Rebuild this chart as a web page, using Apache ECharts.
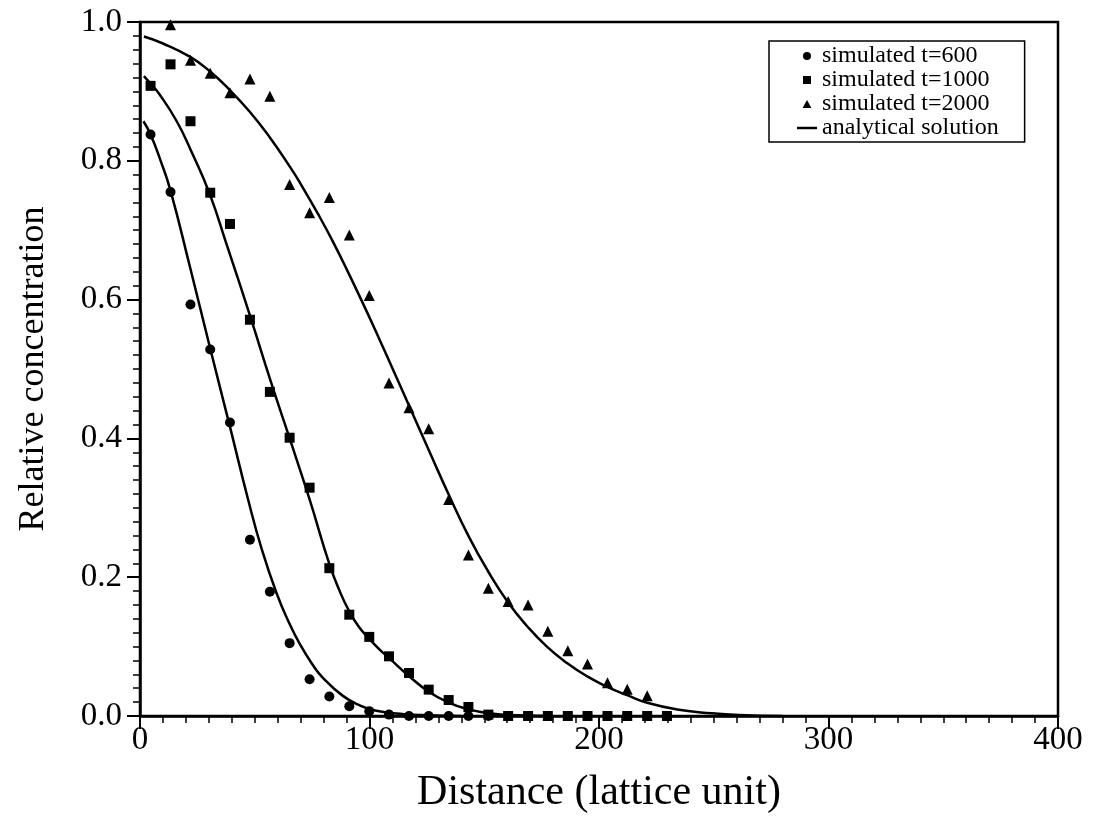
<!DOCTYPE html>
<html>
<head>
<meta charset="utf-8">
<title>Relative concentration vs distance</title>
<script src="https://cdn.jsdelivr.net/npm/echarts@6/dist/echarts.min.js"></script>
<style>
  html, body { margin: 0; padding: 0; background: #fff; }
  #chart { width: 1102px; height: 820px; }
</style>
</head>
<body>
<div id="chart"></div>
<script>
// Lattice positions of the sampled nodes (lattice units)
const distance = [4.6, 13.3, 22.0, 30.6, 39.2, 47.9, 56.6, 65.2, 73.9, 82.5, 91.2, 99.9, 108.5,
  117.2, 125.8, 134.5, 143.1, 151.8, 160.4, 169.1, 177.7, 186.4, 195.0, 203.7, 212.3, 221.0, 229.6];

// Simulated relative concentration at each node
const simT600 = [0.838, 0.755, 0.593, 0.528, 0.423, 0.254, 0.179, 0.105, 0.053, 0.028, 0.014, 0.007, 0.002,
  0, 0, 0, 0, 0, 0, 0, 0, 0, 0, 0, 0, 0, 0];
const simT1000 = [0.908, 0.939, 0.857, 0.754, 0.709, 0.571, 0.467, 0.401, 0.329, 0.213, 0.146, 0.114, 0.086,
  0.062, 0.038, 0.023, 0.013, 0.002, 0, 0, 0, 0, 0, 0, 0, 0, 0];
const simT2000 = [null, 0.996, 0.945, 0.926, 0.898, 0.918, 0.893, 0.766, 0.725, 0.747, 0.693, 0.606, 0.480,
  0.444, 0.414, 0.312, 0.232, 0.184, 0.165, 0.160, 0.122, 0.094, 0.075, 0.048, 0.0385, 0.029, null];

// Analytical solution profiles, [distance, concentration]
const analyticT600 = [[1.5, 0.857], [4.6, 0.838], [9, 0.800], [13.3, 0.757], [21.7, 0.648], [30.4, 0.532],
  [39.1, 0.418], [47.1, 0.312], [53, 0.241], [59.4, 0.178], [65, 0.134], [69.6, 0.104], [75, 0.075],
  [79.7, 0.055], [88.4, 0.029], [96, 0.015], [103, 0.0075], [115, 0.0027], [126, 0.001], [140, 0]];
const analyticT1000 = [[1.7, 0.922], [4.4, 0.912], [8, 0.898], [16, 0.857], [23, 0.809], [30.4, 0.752],
  [37.7, 0.680], [48.1, 0.575], [56.8, 0.484], [65.5, 0.397], [73.9, 0.312], [82.6, 0.218], [87, 0.180],
  [91.3, 0.150], [95.5, 0.128], [100, 0.111], [104.3, 0.096], [108.7, 0.083], [117.4, 0.057], [125.8, 0.035],
  [134.8, 0.019], [143.2, 0.0095], [152, 0.004], [165, 0.001], [180, 0]];
const analyticT2000 = [[1.7, 0.979], [10, 0.969], [21.7, 0.950], [30.4, 0.929], [39.1, 0.902], [48, 0.870],
  [56.5, 0.834], [65.2, 0.792], [69.6, 0.769], [78.3, 0.719], [84, 0.684], [90.6, 0.640], [97.5, 0.592],
  [104.3, 0.543], [110.8, 0.495], [117.4, 0.446], [126.1, 0.381], [134.8, 0.317], [143.5, 0.257],
  [151.4, 0.210], [160.1, 0.165], [168.8, 0.129], [177.3, 0.100], [186.2, 0.076], [194.9, 0.057],
  [203.6, 0.042], [212.3, 0.030], [221, 0.019], [234.8, 0.009], [249, 0.004], [261, 0.0015], [280, 0]];

const xTicks = { min: 0, max: 400, step: 100 };
const yTicks = { min: 0, max: 1, step: 0.2 };

const serif = "'Liberation Serif', 'Times New Roman', serif";

function pairs(xs, ys) {
  const out = [];
  for (let i = 0; i < xs.length; i++) {
    if (ys[i] !== null && ys[i] !== undefined) out.push([xs[i], ys[i]]);
  }
  return out;
}

const chart = echarts.init(document.getElementById('chart'), null, { renderer: 'canvas' });

const axisCommon = {
  splitLine: { show: false },
  axisLine: { show: true, lineStyle: { color: '#000', width: 2.5 } },
  axisTick: { show: true, length: 13, lineStyle: { color: '#000', width: 2 } },
  minorTick: { show: true, splitNumber: 10, length: 7, lineStyle: { color: '#000', width: 1.5 } },
  minorSplitLine: { show: false }
};

const curveStyle = { color: '#000', width: 2.5 };
const markStyle = { color: '#000', opacity: 1 };

function curve(data) {
  return {
    name: 'analytical solution', type: 'line', data: data,
    smooth: 0.5, symbol: 'none',
    lineStyle: curveStyle, itemStyle: { color: '#000' }, z: 2
  };
}

chart.setOption({
  backgroundColor: '#fff',
  animation: false,
  grid: {
    left: 140, right: 44, top: 22, bottom: 104,
    show: true, borderColor: '#000', borderWidth: 2.5,
    outerBoundsMode: 'none'
  },
  legend: {
    orient: 'vertical',
    left: 769, top: 41,
    padding: [3, 26, 2, 28],
    itemWidth: 20, itemHeight: 8, itemGap: 0,
    symbolKeepAspect: true,
    borderColor: '#000', borderWidth: 1.5,
    textStyle: { fontFamily: serif, fontSize: 24, lineHeight: 17, color: '#000' },
    data: [
      { name: 'simulated t=600', icon: 'circle' },
      { name: 'simulated t=1000', icon: 'path://M0,0H10V10H0Z' },
      { name: 'simulated t=2000', icon: 'path://M5,0L10,9L0,9Z' },
      { name: 'analytical solution', icon: 'path://M0,0H20V2.5H0Z' }
    ]
  },
  xAxis: Object.assign({
    type: 'value',
    min: xTicks.min, max: xTicks.max, interval: xTicks.step,
    name: 'Distance (lattice unit)',
    nameLocation: 'middle', nameGap: 56,
    nameTextStyle: { fontFamily: serif, fontSize: 42, color: '#000' },
    axisLabel: { fontFamily: serif, fontSize: 33, color: '#000', margin: 8 }
  }, axisCommon),
  yAxis: Object.assign({
    type: 'value',
    min: yTicks.min, max: yTicks.max, interval: yTicks.step,
    name: 'Relative concentration',
    nameLocation: 'middle', nameGap: 88,
    nameTextStyle: { fontFamily: serif, fontSize: 36, color: '#000' },
    axisLabel: { fontFamily: serif, fontSize: 33, color: '#000', margin: 18,
      formatter: v => v.toFixed(1) }
  }, axisCommon),
  series: [
    curve(analyticT600),
    curve(analyticT1000),
    curve(analyticT2000),
    { name: 'simulated t=600', type: 'scatter', symbol: 'circle', symbolSize: 10, data: pairs(distance, simT600), itemStyle: markStyle, z: 3 },
    { name: 'simulated t=1000', type: 'scatter', symbol: 'rect', symbolSize: 10, data: pairs(distance, simT1000), itemStyle: markStyle, z: 3 },
    { name: 'simulated t=2000', type: 'scatter', symbol: 'triangle', symbolSize: 11, data: pairs(distance, simT2000), itemStyle: markStyle, z: 3 }
  ]
});
</script>
</body>
</html>
